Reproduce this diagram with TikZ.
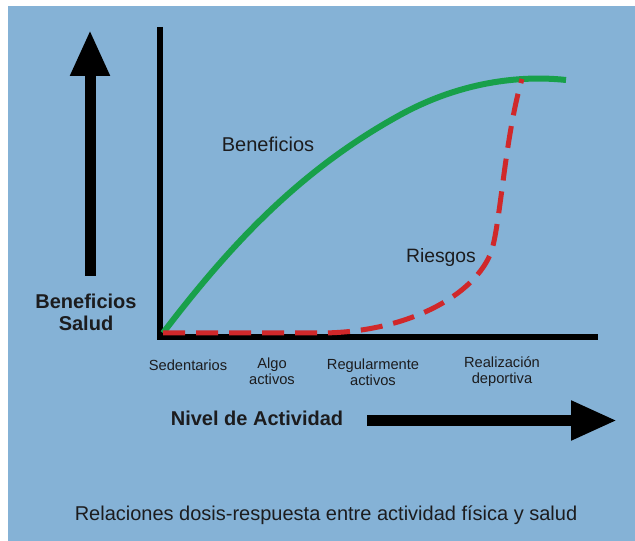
\documentclass[tikz,border=0pt]{standalone}
\usepackage{fontspec}
\setmainfont{Liberation Sans}
\usepackage{tikz}
\usetikzlibrary{positioning,arrows.meta}
\definecolor{fondo}{RGB}{133,178,214}
\definecolor{verde}{RGB}{24,160,74}
\definecolor{rojo}{RGB}{208,40,42}
\definecolor{texto}{RGB}{28,28,30}

\begin{document}
\begin{tikzpicture}[x=0.75pt,y=-0.75pt,
txt/.style={text=texto,inner sep=0pt,anchor=base},
tick/.style={txt,font=\fontsize{11pt}{11.6pt}\selectfont,align=center},
big/.style={txt,font=\fontsize{15pt}{16.5pt}\selectfont\bfseries,align=center},
flecha/.style={line width=8.25pt,-{Triangle[length=34.5pt,width=27.75pt]}}]

% background
\useasboundingbox (0,0) rectangle (635,541);
\fill[white] (0,0) rectangle (635,541);
\fill[fondo] (8,6) rectangle (635,541);

% axes
\coordinate (o) at (160,337);
\coordinate (ytop) at (160,27);
\coordinate (xend) at (598,337);
\draw[line width=4.5pt] (ytop) -- (o) -- (xend);

% big arrows
\coordinate (up0) at (90,276);
\coordinate (up1) at (90,30);
\coordinate (rt0) at (367,420.5);
\coordinate (rt1) at (617,420.5);
\draw[flecha] (up0) -- (up1);
\draw[flecha] (rt0) -- (rt1);

% curves
\coordinate (c0) at (163,333);
\coordinate (gtop) at (566,80);
\coordinate (rtop) at (522,79);
\draw[verde,line width=4.5pt] (c0) .. controls (230,245) and (300,170) .. (400,115)
 .. controls (460,82) and (520,75) .. (gtop);
\draw[rojo,line width=3.75pt,dash pattern=on 16.5pt off 8.25pt] (c0) -- (320,333)
 .. controls (400,333) and (470,300) .. (490,255)
 .. controls (500,232.5) and (504,140) .. (rtop);

% labels
\node[txt,font=\fontsize{15pt}{16pt}\selectfont] (ben) at (268,152) {Beneficios};
\node[txt,font=\fontsize{14.5pt}{16pt}\selectfont] (rie) at (441,263) {Riesgos};
\node[big] (ylab) at (86,330) {Beneficios\\Salud};
\node[big] (xlab) at (257,425) {Nivel de Actividad};

\node[tick] (sed) at (188,371) {Sedentarios};
\node[tick] (alg) at (272,384) {Algo\\activos};
\node[tick] (reg) at (373,385) {Regularmente\\activos};
\node[tick] (dep) at (502,383) {Realización\\deportiva};

\node[txt,font=\fontsize{15pt}{16pt}\selectfont] (cap) at (326,520) {Relaciones dosis-respuesta entre actividad física y salud};
\end{tikzpicture}
\end{document}
